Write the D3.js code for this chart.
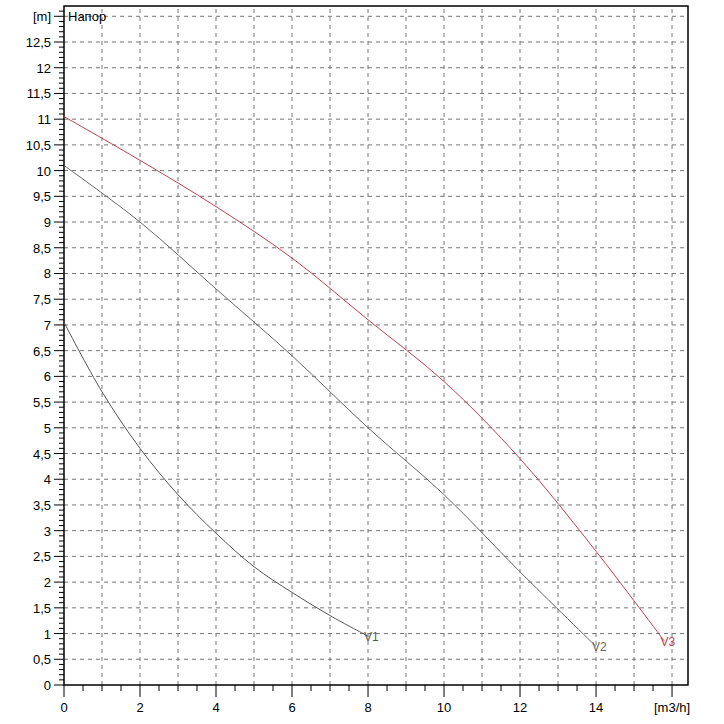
<!DOCTYPE html>
<html><head><meta charset="utf-8">
<script src="https://cdn.jsdelivr.net/npm/d3@7"></script>
<style>body{margin:0;background:#fff}text{font-family:Arial,"Liberation Sans",sans-serif}</style>
</head><body><svg id="c" width="724" height="724"></svg>
<script>
var v1 = [[0,7.05],[1,5.7],[2,4.6],[3,3.7],[4,2.95],[5,2.3],[6,1.8],[7,1.35],[8,0.95]];
var v2 = [[0,10.1],[2,9.0],[4,7.7],[6,6.4],[8,5.0],[10,3.7],[12,2.2],[14,0.75]];
var v3 = [[0,11.05],[2,10.2],[4,9.3],[6,8.3],[8,7.1],[10,5.9],[12,4.4],[14,2.6],[15.8,0.85]];
var curves = [{name:"V1",pts:v1,color:"#555"},{name:"V2",pts:v2,color:"#666"},{name:"V3",pts:v3,color:"#c04050"}];
var xTicks = [0,2,4,6,8,10,12,14];
var yTicks = d3.range(0,12.51,0.5);

var svg = d3.select("#c");
var x = d3.scaleLinear().domain([0,16.42]).range([64,688]);
var y = d3.scaleLinear().domain([0,13.2]).range([685,6]);
var fmt = function(d){ return String(d).replace(".",","); };

// grid
svg.selectAll(".gv").data(d3.range(1,17)).enter().append("line")
  .attr("x1",d=>x(d)).attr("x2",d=>x(d)).attr("y1",y(0)).attr("y2",y(13.2))
  .attr("stroke","#777").attr("stroke-dasharray","4,4");
svg.selectAll(".gh").data(d3.range(0.5,13.01,0.5)).enter().append("line")
  .attr("x1",x(0)).attr("x2",x(16.42)).attr("y1",d=>y(d)).attr("y2",d=>y(d))
  .attr("stroke","#777").attr("stroke-dasharray","4,4");
svg.append("rect").attr("x",64).attr("y",6).attr("width",624).attr("height",679)
  .attr("fill","none").attr("stroke","#000").attr("stroke-width",1.5);

// minor ticks
svg.selectAll(".mx").data(d3.range(0,16.41,0.5)).enter().append("line")
  .attr("x1",d=>x(d)).attr("x2",d=>x(d)).attr("y1",685).attr("y2",d=>d%2==0?697:691).attr("stroke","#000");
svg.selectAll(".my").data(d3.range(0,13.11,0.1)).enter().append("line")
  .attr("y1",d=>y(d)).attr("y2",d=>y(d)).attr("x1",64)
  .attr("x2",d=>Math.abs(d*2-Math.round(d*2))<1e-6?54:59).attr("stroke","#000");

svg.selectAll(".xl").data(xTicks).enter().append("text")
  .attr("x",d=>x(d)).attr("y",712).attr("text-anchor","middle").attr("font-size",13).text(d=>d);
svg.append("text").attr("x",x(16)).attr("y",712).attr("text-anchor","middle").attr("font-size",13).text("[m3/h]");
svg.selectAll(".yl").data(yTicks).enter().append("text")
  .attr("x",51).attr("y",d=>y(d)+5).attr("text-anchor","end").attr("font-size",13).text(fmt);
svg.append("text").attr("x",51).attr("y",y(13)+5).attr("text-anchor","end").attr("font-size",13).text("[m]");
svg.append("text").attr("x",68).attr("y",y(13)+5).attr("font-size",13).text("Напор");

var line = d3.line().x(d=>x(d[0])).y(d=>y(d[1])).curve(d3.curveCatmullRom);
curves.forEach(function(c){
  svg.append("path").attr("d",line(c.pts)).attr("fill","none").attr("stroke",c.color).attr("stroke-width",1);
  var e = c.pts[c.pts.length-1];
  svg.append("text").attr("x",x(e[0])-4).attr("y",y(e[1])+5).attr("font-size",12)
    .attr("fill",c.color).text(c.name);
});
</script></body></html>
